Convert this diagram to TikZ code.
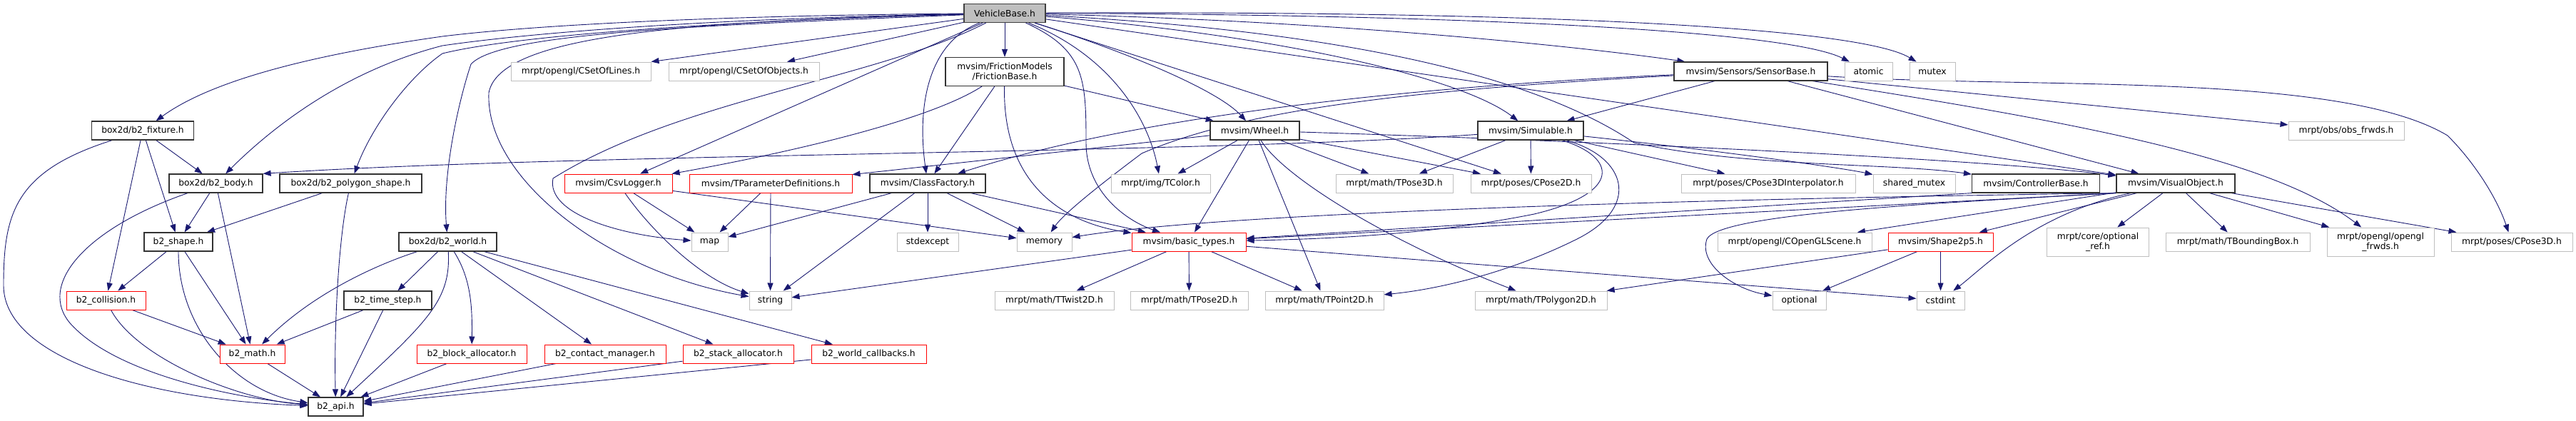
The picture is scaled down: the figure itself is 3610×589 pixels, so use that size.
\documentclass[tikz,border=0pt]{standalone}
\usepackage{fontspec}
\setmainfont{DejaVu Sans}
\usetikzlibrary{arrows.meta,backgrounds}
\definecolor{edgeblue}{HTML}{191970}
\definecolor{boxgrey}{HTML}{BFBFBF}

\begin{document}
\begin{tikzpicture}[x=1pt,y=-1pt,
  hdr/.style={rectangle,inner sep=0pt,minimum height=26pt,fill=white,align=center,font=\fontsize{12.3}{14}\selectfont},
  root/.style={hdr,draw=black!75,fill=boxgrey,line width=1.1pt},
  doc/.style={hdr,draw=black!80,line width=1.2pt},
  trunc/.style={hdr,draw=red,line width=1pt},
  ext/.style={hdr,draw=boxgrey,line width=1pt},
  two/.style={minimum height=40pt},
  dep/.style={draw=edgeblue,line width=0.9pt,-{Triangle[length=11pt,width=8pt]}}]
\useasboundingbox (0,0) rectangle (3610,589);
\node[root, minimum width=114pt] (vb) at (1408,18.5) {VehicleBase.h};
\node[ext, minimum width=196pt] (lines) at (814,100) {mrpt/opengl/CSetOfLines.h};
\node[ext, minimum width=211pt] (objects) at (1042.5,100) {mrpt/opengl/CSetOfObjects.h};
\node[doc, two, minimum width=166pt] (friction) at (1408,100.5) {mvsim/FrictionModels\\/FrictionBase.h};
\node[doc, minimum width=215pt] (sensor) at (2453.5,100) {mvsim/Sensors/SensorBase.h};
\node[ext, minimum width=67pt] (atomic) at (2618.5,100) {atomic};
\node[ext, minimum width=64pt] (mutex) at (2708,100) {mutex};
\node[doc, minimum width=143pt] (fixture) at (200,183) {box2d/b2\_fixture.h};
\node[doc, minimum width=125pt] (wheel) at (1758.5,183) {mvsim/Wheel.h};
\node[doc, minimum width=148pt] (simulable) at (2145,183) {mvsim/Simulable.h};
\node[ext, minimum width=162pt] (obsfrwds) at (3288,183) {mrpt/obs/obs\_frwds.h};
\node[doc, minimum width=131pt] (body) at (302.5,257) {box2d/b2\_body.h};
\node[doc, minimum width=199pt] (poly) at (491.5,257) {box2d/b2\_polygon\_shape.h};
\node[trunc, minimum width=151pt] (csv) at (866.5,257) {mvsim/CsvLogger.h};
\node[trunc, minimum width=228pt] (params) at (1080,257) {mvsim/TParameterDefinitions.h};
\node[doc, minimum width=162pt] (factory) at (1300,257) {mvsim/ClassFactory.h};
\node[ext, minimum width=139pt] (tcolor) at (1626.5,257) {mrpt/img/TColor.h};
\node[ext, minimum width=164pt] (tpose3d) at (1954,257) {mrpt/math/TPose3D.h};
\node[ext, minimum width=169pt] (cpose2d) at (2145.5,257) {mrpt/poses/CPose2D.h};
\node[ext, minimum width=244pt] (interp) at (2478,257) {mrpt/poses/CPose3DInterpolator.h};
\node[ext, minimum width=115pt] (sharedmutex) at (2682.5,257) {shared\_mutex};
\node[doc, minimum width=179pt] (controller) at (2853,257) {mvsim/ControllerBase.h};
\node[doc, minimum width=166pt] (visual) at (3049,257) {mvsim/VisualObject.h};
\node[doc, minimum width=96pt] (shape) at (250,339) {b2\_shape.h};
\node[doc, minimum width=137pt] (world) at (627.5,339) {box2d/b2\_world.h};
\node[ext, minimum width=51pt] (map) at (994.5,339) {map};
\node[ext, minimum width=86pt] (stdexcept) at (1300,339) {stdexcept};
\node[ext, minimum width=77pt] (memory) at (1463.5,339) {memory};
\node[trunc, minimum width=160pt] (basic) at (1666,339) {mvsim/basic\_types.h};
\node[ext, minimum width=216pt] (scene) at (2515,339) {mrpt/opengl/COpenGLScene.h};
\node[trunc, minimum width=147pt] (shape2p5) at (2719.5,339) {mvsim/Shape2p5.h};
\node[ext, two, minimum width=143pt] (optionalref) at (2940,339) {mrpt/core/optional\\\_ref.h};
\node[ext, minimum width=202pt] (bbox) at (3136,339) {mrpt/math/TBoundingBox.h};
\node[ext, two, minimum width=150pt] (glfrwds) at (3336,339) {mrpt/opengl/opengl\\\_frwds.h};
\node[ext, minimum width=170pt] (cpose3d) at (3520,339) {mrpt/poses/CPose3D.h};
\node[trunc, minimum width=111pt] (collision) at (148.5,421) {b2\_collision.h};
\node[doc, minimum width=123pt] (timestep) at (543.5,421) {b2\_time\_step.h};
\node[ext, minimum width=59pt] (string) at (1079.5,421) {string};
\node[ext, minimum width=167pt] (twist) at (1477.5,421) {mrpt/math/TTwist2D.h};
\node[ext, minimum width=165pt] (pose2d) at (1666.5,421) {mrpt/math/TPose2D.h};
\node[ext, minimum width=166pt] (point2d) at (1856,421) {mrpt/math/TPoint2D.h};
\node[ext, minimum width=185pt] (polygon) at (2159.5,421) {mrpt/math/TPolygon2D.h};
\node[ext, minimum width=75pt] (optional) at (2521.5,421) {optional};
\node[ext, minimum width=67pt] (cstdint) at (2719.5,421) {cstdint};
\node[trunc, minimum width=91pt] (math) at (353.5,496) {b2\_math.h};
\node[trunc, minimum width=154pt] (block) at (661,496) {b2\_block\_allocator.h};
\node[trunc, minimum width=170pt] (contact) at (848,496) {b2\_contact\_manager.h};
\node[trunc, minimum width=155pt] (stack) at (1034.5,496) {b2\_stack\_allocator.h};
\node[trunc, minimum width=161pt] (callbacks) at (1217.5,496) {b2\_world\_callbacks.h};
\node[doc, minimum width=77pt] (api) at (470.5,570) {b2\_api.h};
\begin{scope}[on background layer]
\draw[dep] (vb) .. controls (1000,22) and (750,35) .. (620,51) .. controls (450,75) and (300,110) .. (fixture);
\draw[dep] (vb) .. controls (1000,26) and (750,45) .. (620,64) .. controls (480,100) and (380,180) .. (body);
\draw[dep] (vb) .. controls (1000,30) and (720,50) .. (620,75) .. controls (570,110) and (520,180) .. (poly);
\draw[dep] (vb) .. controls (1000,35) and (700,45) .. (660,90) .. controls (640,150) and (620,250) .. (world);
\draw[dep] (vb) -- (lines);
\draw[dep] (vb) -- (objects);
\draw[dep] (vb) -- (csv);
\draw[dep] (vb) .. controls (1230,110) and (950,140) .. (775,250) .. controls (765,300) and (870,330) .. (map);
\draw[dep] (vb) .. controls (950,30) and (700,50) .. (685,130) .. controls (680,250) and (850,380) .. (string);
\draw[dep] (vb) -- (friction);
\draw[dep] (vb) .. controls (1300,60) and (1285,150) .. (factory);
\draw[dep] (vb) .. controls (1520,70) and (1522,110) .. (1522,200) .. controls (1522,270) and (1580,310) .. (basic);
\draw[dep] (vb) .. controls (1560,80) and (1610,170) .. (tcolor);
\draw[dep] (vb) .. controls (1600,80) and (1710,130) .. (wheel);
\draw[dep] (vb) -- (cpose2d);
\draw[dep] (vb) .. controls (1800,50) and (2050,110) .. (simulable);
\draw[dep] (vb) .. controls (1900,30) and (2250,70) .. (sensor);
\draw[dep] (vb) .. controls (2000,20) and (2500,40) .. (atomic);
\draw[dep] (vb) .. controls (2100,15) and (2600,35) .. (mutex);
\draw[dep] (vb) -- (visual);
\draw[dep] (vb) .. controls (2000,50) and (2200,140) .. (2290,200) .. controls (2450,235) and (2650,228) .. (controller);
\draw[dep] (fixture) .. controls (20,240) and (5,300) .. (5,400) .. controls (5,500) and (200,560) .. (api);
\draw[dep] (fixture) -- (body);
\draw[dep] (fixture) -- (shape);
\draw[dep] (fixture) -- (collision);
\draw[dep] (body) .. controls (120,320) and (50,400) .. (100,455) .. controls (170,530) and (350,560) .. (api);
\draw[dep] (body) -- (shape);
\draw[dep] (body) -- (math);
\draw[dep] (poly) -- (shape);
\draw[dep] (poly) .. controls (475,330) and (468,450) .. (api);
\draw[dep] (shape) -- (collision);
\draw[dep] (shape) -- (math);
\draw[dep] (shape) .. controls (250,460) and (330,550) .. (api);
\draw[dep] (collision) -- (math);
\draw[dep] (collision) .. controls (190,500) and (330,560) .. (api);
\draw[dep] (world) -- (timestep);
\draw[dep] (world) .. controls (530,370) and (440,410) .. (math);
\draw[dep] (world) .. controls (632,420) and (600,450) .. (api);
\draw[dep] (world) .. controls (660,390) and (662,430) .. (block);
\draw[dep] (world) -- (contact);
\draw[dep] (world) -- (stack);
\draw[dep] (world) -- (callbacks);
\draw[dep] (timestep) -- (math);
\draw[dep] (timestep) -- (api);
\draw[dep] (math) -- (api);
\draw[dep] (block) -- (api);
\draw[dep] (contact) -- (api);
\draw[dep] (stack) -- (api);
\draw[dep] (callbacks) -- (api);
\draw[dep] (csv) -- (map);
\draw[dep] (csv) .. controls (910,320) and (980,390) .. (string);
\draw[dep] (csv) -- (memory);
\draw[dep] (params) -- (map);
\draw[dep] (params) -- (string);
\draw[dep] (friction) .. controls (1300,170) and (1100,215) .. (csv);
\draw[dep] (friction) -- (factory);
\draw[dep] (friction) .. controls (1405,250) and (1480,310) .. (basic);
\draw[dep] (friction) -- (wheel);
\draw[dep] (factory) -- (stdexcept);
\draw[dep] (factory) -- (memory);
\draw[dep] (factory) -- (basic);
\draw[dep] (factory) -- (map);
\draw[dep] (factory) -- (string);
\draw[dep] (wheel) -- (params);
\draw[dep] (wheel) -- (tcolor);
\draw[dep] (wheel) -- (basic);
\draw[dep] (wheel) -- (point2d);
\draw[dep] (wheel) .. controls (1800,250) and (1950,340) .. (polygon);
\draw[dep] (wheel) -- (tpose3d);
\draw[dep] (wheel) -- (cpose2d);
\draw[dep] (wheel) .. controls (2300,200) and (2800,225) .. (visual);
\draw[dep] (basic) -- (string);
\draw[dep] (basic) -- (twist);
\draw[dep] (basic) -- (pose2d);
\draw[dep] (basic) -- (point2d);
\draw[dep] (basic) -- (cstdint);
\draw[dep] (sensor) -- (simulable);
\draw[dep] (sensor) .. controls (2000,120) and (1600,160) .. (factory);
\draw[dep] (sensor) .. controls (2000,125) and (1750,150) .. (1600,215) .. controls (1540,260) and (1490,300) .. (memory);
\draw[dep] (sensor) -- (visual);
\draw[dep] (sensor) -- (obsfrwds);
\draw[dep] (sensor) .. controls (2850,125) and (3280,100) .. (3430,190) .. controls (3470,230) and (3500,280) .. (cpose3d);
\draw[dep] (sensor) .. controls (2900,170) and (3180,220) .. (glfrwds);
\draw[dep] (simulable) -- (tpose3d);
\draw[dep] (simulable) -- (cpose2d);
\draw[dep] (simulable) -- (interp);
\draw[dep] (simulable) .. controls (2400,210) and (2580,235) .. (sharedmutex);
\draw[dep] (simulable) .. controls (2265,220) and (2275,270) .. (2150,300) .. controls (2000,330) and (1850,335) .. (basic);
\draw[dep] (simulable) .. controls (2280,220) and (2300,290) .. (2210,335) .. controls (2120,380) and (2020,405) .. (point2d);
\draw[dep] (simulable) .. controls (1700,215) and (800,215) .. (body.north east);
\draw[dep] (controller.south west) -- (basic);
\draw[dep] (visual.south west) -- (basic);
\draw[dep] (visual.south west) .. controls (2300,280) and (1700,300) .. (memory);
\draw[dep] (visual) -- (scene);
\draw[dep] (visual) -- (shape2p5);
\draw[dep] (visual) .. controls (2850,300) and (2780,375) .. (cstdint);
\draw[dep] (visual.south west) .. controls (2700,285) and (2410,300) .. (2392,335) .. controls (2380,370) and (2430,405) .. (optional);
\draw[dep] (visual) -- (optionalref);
\draw[dep] (visual) -- (bbox);
\draw[dep] (visual) -- (glfrwds);
\draw[dep] (visual) -- (cpose3d);
\draw[dep] (shape2p5) -- (polygon);
\draw[dep] (shape2p5) -- (optional);
\draw[dep] (shape2p5) -- (cstdint);
\end{scope}
\end{tikzpicture}
\end{document}
